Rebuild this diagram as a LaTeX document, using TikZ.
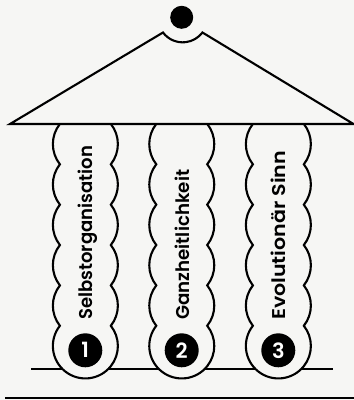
\documentclass[tikz,border=0pt]{standalone}
\usepackage{graphicx}
\usepackage{fontspec}
\setmainfont{Poppins}
\newfontfamily\labelfont{Poppins SemiBold}
\newfontfamily\numfont{Poppins SemiBold}
\definecolor{paper}{HTML}{F6F6F4}
\tikzset{
  ink/.style={line width=2.1pt,draw=black,line join=miter},
  columnshape/.style={ink,fill=paper},
  pillarlabel/.style={rotate=90,anchor=base west,inner sep=0pt,text=black,font=\labelfont\fontsize{18.5}{18.5}\selectfont},
  badge/.style={circle,fill=black,minimum size=34pt,inner sep=0pt,text=white,font=\numfont\fontsize{21}{21}\selectfont}
}
\newcommand{\pillar}[1]{%
  \path[columnshape] (#1pt-25.4pt,276.1pt)
    \foreach \k in {1,...,5}{ arc[start angle=141.6,end angle=218.4,radius=32.5pt] }
    arc[start angle=141.6,end angle=398.4,radius=32.5pt]
    \foreach \k in {1,...,5}{ arc[start angle=-38.4,end angle=38.4,radius=32.5pt] }
    -- cycle;
}
\begin{document}
\begin{tikzpicture}[x=1pt,y=1pt]
\useasboundingbox[fill=paper] (0,0) rectangle (354,400);
\draw[ink] (5,2) -- (354,2);
\coordinate (gl) at (31,31.3);
\coordinate (gr) at (333,31.3);
\draw[ink] (gl) -- (gr);
\pillar{85.3}
\pillar{181.7}
\pillar{278.3}
\path[ink,fill=paper] (10,276) -- (163,367.5) arc[start angle=217,end angle=323,radius=24.7pt] -- (353.5,276) -- cycle;
\node[circle,fill=black,minimum size=23pt,inner sep=0pt] (top) at (181.7,382.7) {};
\node[pillarlabel] (l1) at (92.3,80) {\resizebox{174pt}{\height}{Selbstorganisation}};
\node[pillarlabel] (l2) at (189.3,80) {\resizebox{150pt}{\height}{Ganzheitlichkeit}};
\node[pillarlabel] (l3) at (285,80) {\resizebox{169pt}{\height}{Evolutionär Sinn}};
\node[badge] (n1) at (85.3,49.7) {1};
\node[badge] (n2) at (181.7,49.7) {2};
\node[badge] (n3) at (278.3,49.7) {3};
\end{tikzpicture}
\end{document}
